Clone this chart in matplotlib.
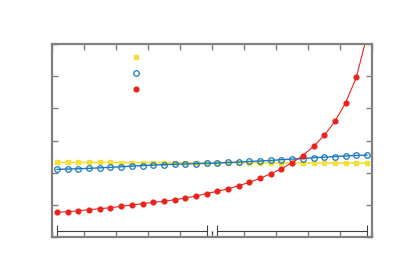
import numpy as np
import matplotlib
matplotlib.use('Agg')
import matplotlib.pyplot as plt
from matplotlib.lines import Line2D

# data (y in tick units, 6 intervals)
idx = np.arange(30)
yellow = [2.322, 2.321, 2.320, 2.320, 2.319, 2.318, 2.317, 2.316, 2.315, 2.315,
          2.314, 2.313, 2.312, 2.311, 2.310, 2.310, 2.309, 2.308, 2.307, 2.306,
          2.305, 2.305, 2.304, 2.303, 2.302, 2.302, 2.301, 2.300, 2.300, 2.300]
blue = [2.104, 2.114, 2.123, 2.136, 2.151, 2.167, 2.185, 2.204, 2.223, 2.238,
        2.251, 2.263, 2.272, 2.282, 2.291, 2.300, 2.319, 2.331, 2.350, 2.366,
        2.381, 2.406, 2.422, 2.440, 2.468, 2.484, 2.502, 2.521, 2.537, 2.549]
red = [0.768, 0.786, 0.818, 0.849, 0.880, 0.911, 0.954, 0.995, 1.035, 1.079,
       1.110, 1.159, 1.212, 1.274, 1.352, 1.421, 1.501, 1.595, 1.703, 1.825,
       1.968, 2.123, 2.310, 2.533, 2.819, 3.161, 3.597, 4.175, 4.964, 6.257]
# two ranges shown as bracket at the bottom
range_lo = [0, 15]
range_hi = [14, 29]
range_y = 0.19
break_x = 14.5

c_yellow = '#f2df3a'
c_blue = '#1a78c2'
c_red = '#e8231c'
c_axis = '#808080'

fig = plt.figure(figsize=(4.0, 2.79), dpi=100)
ax = fig.add_axes([0.13, 0.1505, 0.80, 0.6915])

ax.plot(idx, yellow, '-', color=c_yellow, lw=1.2, marker='s', ms=3.4,
        mec=c_yellow, mfc=c_yellow)
ax.plot(idx, blue, '-', color=c_blue, lw=1.0, marker='o', ms=4.0,
        mec=c_blue, mfc='none', mew=0.9)
ax.plot(idx, red, '-', color=c_red, lw=0.8, marker='o', ms=3.4,
        mec=c_red, mfc=c_red)

lo = np.array(range_lo, float)
hi = np.array(range_hi, float)
ax.errorbar((lo + hi) / 2, [range_y] * 2, xerr=(hi - lo) / 2, fmt='none',
            ecolor='#404040', elinewidth=0.8, capsize=4, capthick=0.8)
ax.vlines([break_x], range_y - 0.1, range_y, color='#404040', lw=0.8)

ax.set_xlim(-0.47, 29.47)
ax.set_ylim(0, 6)
ax.set_xticks(np.linspace(-0.47, 29.47, 11))
ax.set_yticks(np.arange(0, 7))
ax.tick_params(direction='in', length=4, width=1, color=c_axis,
               top=True, right=True, labelbottom=False, labelleft=False)
for s in ax.spines.values():
    s.set_color(c_axis)
    s.set_linewidth(1.6)

handles = [
    Line2D([], [], ls='none', marker='s', ms=3.4, color=c_yellow),
    Line2D([], [], ls='none', marker='o', ms=4.0, mec=c_blue, mfc='none', mew=0.9),
    Line2D([], [], ls='none', marker='o', ms=3.4, color=c_red),
]
ax.legend(handles, ['', '', ''], loc='upper left', bbox_to_anchor=(0.22, 0.995),
          frameon=False, fontsize=8, labelspacing=0.55, handlelength=1.0,
          handletextpad=0.2, borderpad=0.2)

fig.savefig('out.png', dpi=100)
